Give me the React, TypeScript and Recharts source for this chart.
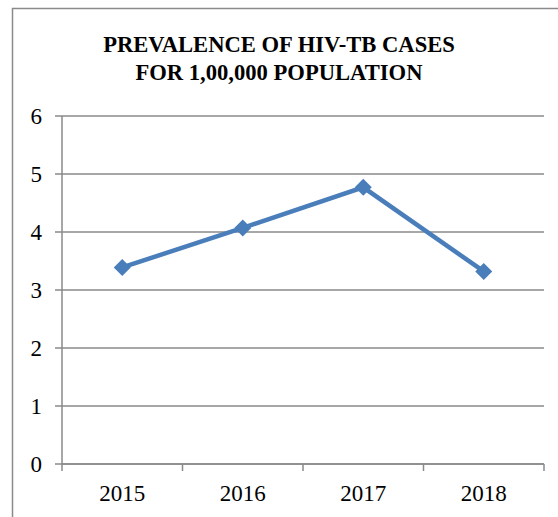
import { LineChart, Line, XAxis, YAxis, CartesianGrid, Customized } from "recharts";

// values
const YEARS = ["2015", "2016", "2017", "2018"];
const PREVALENCE = [3.39, 4.07, 4.77, 3.32];
const Y_TICKS = [0, 1, 2, 3, 4, 5, 6];
const TITLE_LINES = ["PREVALENCE OF HIV-TB CASES", "FOR 1,00,000 POPULATION"];

const data = YEARS.map((year, i) => ({ year, value: PREVALENCE[i] }));

const W = 558;
const H = 517;
const MARGIN = { top: 116, right: 14, left: 0, bottom: 0 };
const Y_AXIS_W = 62;
const X_AXIS_H = 53;
const PLOT_W = W - MARGIN.left - MARGIN.right - Y_AXIS_W;

const GREY = "#8a8a8a";
const BLUE = "#4a7ebb";
const FONT = "Liberation Serif, DejaVu Serif, Times New Roman, serif";

function Diamond(props: any) {
  const { cx, cy } = props;
  if (cx == null || cy == null) return null;
  const r = 8.5;
  return (
    <polygon
      points={`${cx},${cy - r} ${cx + r},${cy} ${cx},${cy + r} ${cx - r},${cy}`}
      fill={BLUE}
    />
  );
}

// category axis: labels at the centre, tick marks on the category boundaries
function YearTick(props: any) {
  const { x, y, payload, index } = props;
  const bw = PLOT_W / YEARS.length;
  const left = x - bw / 2;
  const right = x + bw / 2;
  return (
    <g>
      <line x1={left} x2={left} y1={y} y2={y + 7} stroke={GREY} strokeWidth={1.5} />
      {index === YEARS.length - 1 && (
        <line x1={right} x2={right} y1={y} y2={y + 7} stroke={GREY} strokeWidth={1.5} />
      )}
      <text x={x} y={y + 37} textAnchor="middle" fontSize={23} fontFamily={FONT} fill="#000">
        {payload.value}
      </text>
    </g>
  );
}

// outer chart frame and the two-line title
function Frame() {
  return (
    <g>
      <rect x={12.5} y={8.5} width={700} height={700} fill="none" stroke={GREY} strokeWidth={1.5} />
      {TITLE_LINES.map((t, i) => (
        <text
          key={t}
          x={W / 2}
          y={52 + i * 28}
          textAnchor="middle"
          fontSize={22.6}
          fontWeight="bold"
          fontFamily={FONT}
          fill="#000"
        >
          {t}
        </text>
      ))}
    </g>
  );
}

export default function App() {
  return (
    <div style={{ position: "absolute", left: 0, top: 0, width: W, height: H, overflow: "hidden" }}>
      <LineChart width={W} height={H} data={data} margin={MARGIN}>
        <Customized component={Frame} />
        <CartesianGrid vertical={false} stroke={GREY} strokeWidth={1.5} />
        <XAxis
          dataKey="year"
          scale="band"
          height={X_AXIS_H}
          axisLine={{ stroke: GREY, strokeWidth: 1.5 }}
          tickLine={false}
          tickSize={0}
          tickMargin={0}
          tick={<YearTick />}
          interval={0}
        />
        <YAxis
          width={Y_AXIS_W}
          domain={[0, 6]}
          ticks={Y_TICKS}
          axisLine={{ stroke: GREY, strokeWidth: 1.5 }}
          tickLine={{ stroke: GREY, strokeWidth: 1.5 }}
          tickSize={7}
          tickMargin={13}
          tick={{ fontSize: 23, fontFamily: FONT, fill: "#000" }}
        />
        <Line
          dataKey="value"
          stroke={BLUE}
          strokeWidth={4.5}
          dot={<Diamond />}
          activeDot={false}
          isAnimationActive={false}
        />
      </LineChart>
    </div>
  );
}
